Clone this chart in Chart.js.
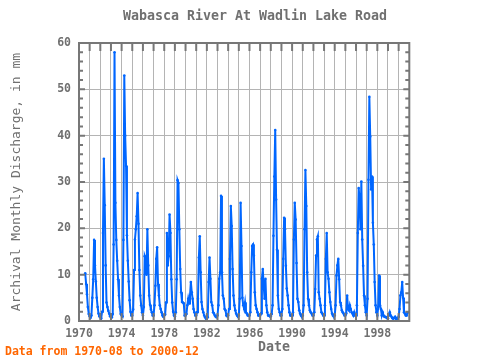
<!DOCTYPE html>
<html lang="en">
  <head>
    <meta charset="UTF-8" />
    <title>Wabasca River At Wadlin Lake Road</title>
    <style>
      html,
      body {
        margin: 0;
        padding: 0;
        background: #fff;
      }
      #flowChart {
        display: block;
      }
    </style>
    <script src="https://cdn.jsdelivr.net/npm/chart.js"></script>
  </head>
  <body>
    <canvas id="flowChart" width="480" height="360"></canvas>
    <script>
      // record starts 1970-08, one value per month (mm)
      const startYear = 1970;
      const startMonth = 8;

      const flow1970s = [
        10.3, 8.0, 5.8, 3.0, 1.5,
        1.0, 0.7, 1.2, 5.0, 9.0, 17.5, 12.0, 8.5, 5.0, 3.0, 1.6, 1.0,
        0.8, 0.6, 2.0, 19.0, 35.0, 25.0, 12.0, 4.0, 3.0, 2.2, 1.6, 1.0,
        0.9, 0.8, 1.5, 16.5, 58.0, 25.5, 17.5, 13.0, 9.0, 5.5, 3.0, 1.5,
        1.2, 1.0, 17.5, 53.0, 40.0, 33.5, 18.5, 13.0, 8.5, 4.5, 2.0, 1.2,
        1.2, 2.5, 11.0, 17.6, 19.8, 22.6, 27.6, 21.0, 11.0, 5.5, 3.4, 1.9,
        1.2, 3.0, 14.0, 13.4, 10.0, 19.8, 12.0, 5.5, 3.5, 2.5, 1.9, 1.2,
        1.2, 3.4, 7.6, 13.4, 15.9, 8.0, 5.5, 3.4, 2.6, 1.9, 1.2, 0.9,
        1.2, 1.4, 4.0, 19.0, 12.0, 14.0, 23.0, 19.0, 9.0, 4.0, 2.0, 1.2,
        1.0, 1.9, 9.0, 30.4, 29.8, 19.8, 11.2, 6.2, 4.1, 4.0, 3.8, 1.2
      ];
      const flow1980s = [
        1.2, 1.5, 3.4, 4.8, 3.8, 5.5, 8.4, 6.2, 4.8, 2.6, 1.9, 1.2,
        1.2, 1.9, 4.8, 13.7, 18.3, 10.5, 4.1, 2.6, 1.9, 1.2, 0.8, 0.5,
        0.5, 0.8, 8.4, 13.7, 9.1, 4.1, 3.4, 1.9, 1.6, 1.2, 0.9, 0.8,
        1.2, 3.4, 9.1, 10.5, 27.0, 10.5, 5.5, 4.8, 2.6, 2.3, 1.2, 1.0,
        1.2, 2.6, 13.4, 24.8, 20.5, 11.2, 5.5, 3.4, 2.3, 1.6, 1.2, 1.0,
        1.2, 4.8, 25.5, 16.2, 5.0, 3.4, 2.6, 4.0, 1.9, 1.6, 1.2, 1.2,
        1.2, 1.9, 10.5, 16.2, 16.5, 14.1, 6.2, 3.4, 2.6, 1.9, 1.2, 1.2,
        1.2, 1.6, 9.1, 11.2, 7.6, 4.8, 9.1, 3.4, 1.9, 1.2, 1.2, 1.0,
        1.0, 1.5, 3.4, 18.4, 31.2, 41.2, 26.2, 15.4, 5.5, 2.6, 1.9, 1.2,
        1.2, 2.6, 13.4, 22.3, 19.8, 11.9, 7.0, 5.5, 3.4, 1.9, 1.2, 1.2
      ];
      const flow1990s = [
        1.2, 1.9, 17.6, 25.5, 21.9, 12.5, 4.8, 4.1, 2.3, 1.6, 1.2, 1.2,
        1.2, 3.4, 19.8, 32.6, 24.8, 10.5, 4.8, 3.4, 2.3, 1.9, 1.6, 1.2,
        1.2, 1.9, 6.9, 14.1, 17.6, 18.3, 6.2, 4.8, 3.4, 1.9, 1.6, 1.2,
        1.2, 3.4, 13.4, 19.0, 10.5, 9.1, 6.2, 4.1, 2.6, 1.6, 1.2, 1.2,
        1.2, 3.4, 9.8, 12.0, 13.4, 9.0, 4.1, 3.4, 2.3, 1.9, 1.6, 1.2,
        1.2, 1.6, 5.5, 2.6, 2.3, 3.4, 2.6, 1.9, 1.6, 1.2, 1.9, 1.2,
        1.2, 3.4, 19.0, 28.7, 26.2, 19.8, 30.1, 17.6, 11.9, 5.5, 3.4, 1.9,
        1.2, 4.8, 30.5, 48.4, 39.8, 28.4, 31.2, 21.2, 16.5, 8.4, 3.4, 1.9,
        1.2, 3.0, 9.8, 3.4, 2.6, 1.2, 1.9, 1.2, 0.9, 0.9, 0.8, 0.6,
        0.6, 1.2, 1.9, 1.2, 0.9, 0.6, 0.5, 0.7, 0.9, 0.5, 0.5, 0.5
      ];
      const flow2000 = [0.9, 2.6, 5.5, 6.2, 8.4, 5.0, 1.9, 1.6, 1.2, 1.2, 1.9, 1.9];

      const labelYears = [1970, 1974, 1978, 1982, 1986, 1990, 1994, 1998];
      const yTicks = [0, 10, 20, 30, 40, 50, 60];

      const monthly = [...flow1970s, ...flow1980s, ...flow1990s, ...flow2000];
      const points = monthly.map((v, i) => ({
        x: startYear + (startMonth - 1 + i) / 12,
        y: v,
      }));

      const grey = "#707070";
      const mono = '"DejaVu Sans Mono", monospace';

      // frame, inward tick marks and the free-standing texts
      const decorations = {
        id: "decorations",
        afterDraw(chart) {
          const { ctx, chartArea: a } = chart;
          const xs = chart.scales.x;
          const ys = chart.scales.y;
          ctx.save();
          ctx.strokeStyle = "#777";
          ctx.lineWidth = 2;
          ctx.beginPath();
          for (let yr = 1971; yr < 2001; yr++) {
            const px = xs.getPixelForValue(yr);
            ctx.moveTo(px, a.top);
            ctx.lineTo(px, a.top + 8);
            ctx.moveTo(px, a.bottom);
            ctx.lineTo(px, a.bottom - 8);
          }
          for (let v = 2; v < 60; v += 2) {
            const len = v % 10 === 0 ? 6 : 4;
            const py = ys.getPixelForValue(v);
            ctx.moveTo(a.left, py);
            ctx.lineTo(a.left + len, py);
            ctx.moveTo(a.right, py);
            ctx.lineTo(a.right - len, py);
          }
          ctx.stroke();
          ctx.strokeRect(a.left, a.top, a.right - a.left, a.bottom - a.top);

          ctx.textBaseline = "middle";
          ctx.textAlign = "center";
          ctx.fillStyle = grey;
          ctx.font = "bold 13.3px " + mono;
          ctx.fillText("Wabasca River At Wadlin Lake Road", 255, 17);
          ctx.fillText("Date", 274, 348);
          ctx.textAlign = "left";
          ctx.fillStyle = "#ff6600";
          ctx.font = "bold 11.5px " + mono;
          ctx.fillText("Data from 1970-08 to 2000-12", 5, 352);
          ctx.restore();
        },
      };

      const ctx = document.getElementById("flowChart").getContext("2d");
      new Chart(ctx, {
        type: "line",
        data: {
          datasets: [
            {
              data: points,
              borderColor: "#0066ff",
              backgroundColor: "#0066ff",
              borderWidth: 2,
              pointRadius: 1.3,
              pointBorderWidth: 0,
              tension: 0,
            },
          ],
        },
        options: {
          responsive: false,
          animation: false,
          devicePixelRatio: 1,
          layout: { padding: { top: 43, right: 70.7, bottom: 0, left: 0 } },
          plugins: {
            legend: { display: false },
            tooltip: { enabled: false },
          },
          scales: {
            x: {
              type: "linear",
              min: 1970,
              max: 2001,
              afterFit: (s) => {
                s.height = 39;
              },
              afterBuildTicks: (s) => {
                s.ticks = [];
                for (let yr = 1970; yr <= 2001; yr++) s.ticks.push({ value: yr });
              },
              border: { display: false },
              grid: { color: "#b4b4b4", lineWidth: 1, drawTicks: false },
              ticks: {
                autoSkip: false,
                maxRotation: 0,
                padding: 6,
                color: grey,
                font: { family: mono, size: 11.5, weight: "bold" },
                callback: (v) => (labelYears.includes(v) ? String(v) : ""),
              },
            },
            y: {
              min: 0,
              max: 60,
              afterFit: (s) => {
                s.width = 79;
              },
              afterBuildTicks: (s) => {
                s.ticks = yTicks.map((v) => ({ value: v }));
              },
              border: { display: false },
              grid: { color: "#b4b4b4", lineWidth: 1, drawTicks: false },
              ticks: {
                padding: 8,
                color: grey,
                font: { family: mono, size: 11.5, weight: "bold" },
              },
              title: {
                display: true,
                text: "Archival Monthly Discharge, in mm",
                color: grey,
                padding: { top: 9, bottom: 0 },
                font: { family: mono, size: 13, weight: "normal" },
              },
            },
          },
        },
        plugins: [decorations],
      });
    </script>
  </body>
</html>
